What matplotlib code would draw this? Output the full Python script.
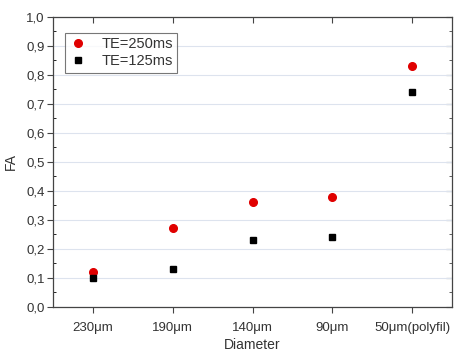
import numpy as np
import matplotlib.pyplot as plt
from matplotlib.ticker import MultipleLocator, FuncFormatter

plt.rcParams['font.family'] = ['Liberation Sans', 'DejaVu Sans']

diameters = ['230\u03bcm', '190\u03bcm', '140\u03bcm', '90\u03bcm', '50\u03bcm(polyfil)']
fa_250 = [0.12, 0.27, 0.36, 0.38, 0.83]
fa_125 = [0.10, 0.13, 0.23, 0.24, 0.74]

x = np.arange(len(diameters))

fig = plt.figure(figsize=(4.59, 3.55), dpi=100)
ax = fig.add_axes([53/459, 1 - 306.7/355, 399/459, 289.7/355])

ax.plot(x, fa_250, 'o', color='#e00000', markersize=5.5, label='TE=250ms', zorder=3)
ax.plot(x, fa_125, 's', color='black', markersize=5, label='TE=125ms', zorder=3)

ax.set_xlim(-0.5, 4.5)
ax.set_ylim(0, 1.0)
ax.set_xticks(x)
ax.set_xticklabels(diameters)
ax.yaxis.set_major_locator(MultipleLocator(0.1))
ax.yaxis.set_minor_locator(MultipleLocator(0.05))
ax.yaxis.set_major_formatter(FuncFormatter(lambda v, p: ('%.1f' % v).replace('.', ',')))
ax.grid(axis='y', color='#dde3ee', linewidth=0.8)
ax.set_axisbelow(True)

ax.tick_params(axis='both', which='major', direction='out', length=4, width=0.8,
               labelsize=9.5, colors='#444444', labelcolor='#333333', pad=2)
ax.tick_params(axis='y', which='minor', direction='in', length=2, width=0.6)
ax.tick_params(axis='x', pad=7)
for s in ax.spines.values():
    s.set_color('#444444')
    s.set_linewidth(0.9)

# ticks on top and right, pointing in
sec_x = ax.secondary_xaxis('top')
sec_x.set_xticks(x)
sec_x.tick_params(direction='in', length=4, width=0.8, labeltop=False, colors='#444444')
sec_y = ax.secondary_yaxis('right')
sec_y.yaxis.set_major_locator(MultipleLocator(0.1))
sec_y.yaxis.set_minor_locator(MultipleLocator(0.05))
sec_y.tick_params(which='major', direction='in', length=4, width=0.8, labelright=False, colors='#444444')
sec_y.tick_params(which='minor', direction='in', length=2, width=0.6, colors='#444444')
for s in list(sec_x.spines.values()) + list(sec_y.spines.values()):
    s.set_visible(False)

ax.set_xlabel('Diameter', fontsize=10, color='#333333', labelpad=3)
ax.set_ylabel('FA', fontsize=10, color='#333333', labelpad=6)

leg = ax.legend(loc='upper left', bbox_to_anchor=(0.03, 0.945), borderaxespad=0,
                fontsize=10.5, frameon=True, fancybox=False, edgecolor='#555555',
                handletextpad=1.0, borderpad=0.3, labelspacing=0.2, handlelength=1.2)
leg.get_frame().set_linewidth(0.8)
for t in leg.get_texts():
    t.set_color('#333333')

fig.savefig('out.png', dpi=100)
